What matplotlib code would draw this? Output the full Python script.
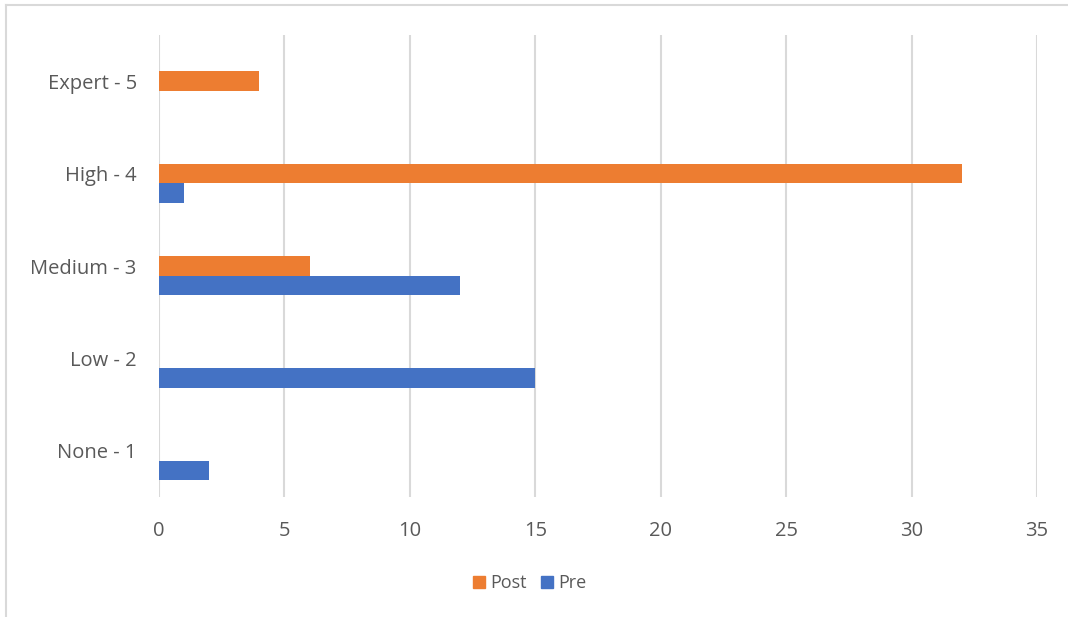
import numpy as np
import matplotlib
matplotlib.use('Agg')
import matplotlib.pyplot as plt
from matplotlib.lines import Line2D
from matplotlib.patches import Patch

# Data (bottom to top)
categories = ['None - 1', 'Low - 2', 'Medium - 3', 'High - 4', 'Expert - 5']
pre_values = [2, 15, 12, 1, 0]
post_values = [0, 0, 6, 32, 4]
x_ticks = [0, 5, 10, 15, 20, 25, 30, 35]

blue = '#4472C4'
orange = '#ED7D31'
text_color = '#595959'
grid_color = '#D9D9D9'

plt.rcParams['font.family'] = ['Open Sans', 'DejaVu Sans']

W, H = 1068, 617
fig = plt.figure(figsize=(W / 100, H / 100), dpi=100)
ax = fig.add_axes([159 / W, 1 - 497 / H, (1037 - 159) / W, (497 - 35) / H])

y = np.arange(len(categories))
bar_h = 0.21
ax.barh(y, post_values, height=bar_h, color=orange, label='Post')
ax.barh(y - bar_h, pre_values, height=bar_h, color=blue, label='Pre')

ax.set_xlim(0, 35)
ax.set_ylim(-0.5, len(categories) - 0.5)
ax.set_xticks(x_ticks)
ax.set_xticklabels([str(t) for t in x_ticks])
ax.set_yticks(y)
ax.set_yticklabels(categories)
ax.tick_params(axis='both', length=0, labelcolor=text_color, labelsize=14.5)
ax.tick_params(axis='x', pad=17)
ax.tick_params(axis='y', pad=16)

ax.grid(axis='x', color=grid_color, linewidth=1.5)
ax.set_axisbelow(True)
for s in ax.spines.values():
    s.set_visible(False)

handles = [Patch(color=orange, label='Post'), Patch(color=blue, label='Pre')]
fig.legend(handles=handles, loc='center', bbox_to_anchor=(530 / W, 1 - 583 / H),
           ncol=2, frameon=False, fontsize=13, labelcolor=text_color,
           handlelength=0.65, handleheight=0.65, handletextpad=0.3, columnspacing=0.8)

# chart area border (top and left visible)
fig.add_artist(Line2D([6 / W, 1], [1 - 5 / H, 1 - 5 / H], color=grid_color, linewidth=1.5))
fig.add_artist(Line2D([6 / W, 6 / W], [0, 1 - 5 / H], color=grid_color, linewidth=1.5))

fig.savefig('out.png', dpi=100)
